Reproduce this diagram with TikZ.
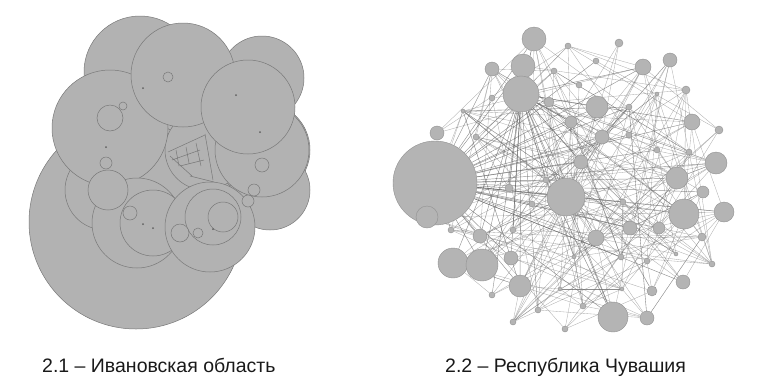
\documentclass[tikz,border=0pt]{standalone}
\usepackage{fontspec}
\setmainfont{Liberation Sans}
\usetikzlibrary{backgrounds}
\definecolor{cfill}{RGB}{178,178,178}
\definecolor{cline}{RGB}{120,120,120}
\definecolor{nfill}{RGB}{180,180,180}
\definecolor{nline}{RGB}{145,145,145}
\definecolor{eline}{RGB}{110,110,110}
\definecolor{txt}{RGB}{25,25,25}
\tikzset{
  cir/.style={fill=cfill, draw=cline, line width=0.5pt},
  dotc/.style={fill=cline!80!black},
  web/.style={draw=cline, line width=0.5pt},
  nd/.style={circle, fill=nfill, draw=nline, line width=0.4pt, inner sep=0pt},
  edge/.style={draw=eline, line width=0.35pt, opacity=0.55},
  hub/.style={draw=black!70, line width=0.45pt, opacity=0.6},
  captext/.style={font=\fontsize{19.5}{22}\selectfont, text=txt, anchor=base west, inner sep=0pt}
}
\begin{document}
\begin{tikzpicture}[x=1pt,y=-1pt]
\useasboundingbox (0,0) rectangle (764,384);
% ---------- left panel: overlapping circles ----------
\foreach \x/\y/\r in {136/222/107, 140/72/56, 262/78/42, 262/150/48, 270/190/40,
  105/190/40, 150/170/45, 205/150/40}
  \draw[cir] (\x,\y) circle[radius=\r pt];
\foreach \x/\y/\r in {110/128/58, 183/75/52, 262/150/47, 248/107/47}
  \draw[cir] (\x,\y) circle[radius=\r pt];
\draw[web] (168,152) -- (205,135) (170,156) -- (192,176) (176,150) -- (179,166)
  (186,147) -- (189,163) (196,143) -- (201,166) (205,134) -- (213,180)
  (172,160) -- (200,150) (180,166) -- (204,160) (190,176) -- (214,182);
\foreach \x/\y/\r in {137/223/45, 153/223/33, 210/227/45, 213/217/28, 108/190/20}
  \draw[cir] (\x,\y) circle[radius=\r pt];
\foreach \x/\y/\r in {168/77/5, 110/118/13, 123/106/4, 106/163/6, 130/213/7,
  180/233/9, 198/233/5, 223/217/15, 248/201/6, 254/190/6, 262/165/7}
  \draw[cir] (\x,\y) circle[radius=\r pt];
\foreach \x/\y in {143/88, 236/95, 260/132, 106/147, 143/224, 153/228, 213/229}
  \fill[dotc] (\x,\y) circle[radius=1pt];
% ---------- right panel: network ----------
\foreach \i/\x/\y/\r in {1/435/183/42, 2/427/217/11, 3/534/39/12, 4/523/66/12,
  5/521/94/18, 6/492/69/7, 7/437/133/7, 8/597/107/11, 9/643/67/8, 10/670/60/7,
  11/619/43/4, 12/568/46/3, 13/596/61/3, 14/554/71/3, 15/579/85/3, 16/686/90/4,
  17/657/94/2, 18/549/102/5, 19/492/98/3, 20/463/111/2, 21/629/107/3,
  22/571/122/6, 23/602/137/7, 24/692/122/8, 25/719/130/4, 26/629/135/3,
  27/476/137/3, 28/657/150/3, 29/689/152/3, 30/581/162/7, 31/716/163/11,
  32/677/178/11, 33/566/197/19, 34/703/192/6, 35/724/212/10, 36/684/214/15,
  37/509/188/4, 38/546/180/3, 39/630/228/7, 40/659/228/6, 41/596/238/8,
  42/702/237/4, 43/480/236/7, 44/451/230/3, 45/453/263/15, 46/482/265/16,
  47/511/258/7, 48/520/286/11, 49/492/295/3, 50/538/310/3, 51/513/322/3,
  52/565/329/3, 53/583/306/3, 54/613/317/15, 55/647/318/7, 56/652/291/5,
  57/683/282/7, 58/712/264/3, 59/676/254/2, 60/621/257/3, 61/647/261/3,
  62/574/257/2, 63/560/289/2, 64/622/289/2, 65/623/202/3, 66/532/204/3,
  67/513/230/3}
  \node[nd, minimum size={2*\r pt}] (r\i) at (\x,\y) {};
\begin{pgfonlayer}{background}
  \foreach \b in {3,4,5,6,8,14,18,22,23,30,31,32,33,35,36,37,38,41,47,48,24,34,39,40,54,57,66,26,21,28,65,60,43,46,13,9}
    \draw[hub] (r1) -- (r\b);
  \foreach \b in {33,41,43,46,47,48,54,30,23,22,38,37,67,45,49,50,62,3,12,9,8,24,31,36}
    \draw[hub] (r5) -- (r\b);
  \foreach \b in {3,4,8,9,22,23,24,31,32,36,39,41,45,46,48,54,55,57,60,35,43,6}
    \draw[edge] (r33) -- (r\b);
  \pgfmathsetseed{4711}
  \foreach \k in {1,...,230} {
    \pgfmathtruncatemacro{\a}{random(1,67)}
    \pgfmathtruncatemacro{\b}{random(1,67)}
    \ifnum\a=\b\relax\else\draw[edge] (r\a) -- (r\b);\fi
  }
\end{pgfonlayer}
% ---------- captions ----------
\node[captext] (c1) at (42,372) {2.1 – Ивановская область};
\node[captext] (c2) at (445,372) {2.2 – Республика Чувашия};
\end{tikzpicture}
\end{document}
